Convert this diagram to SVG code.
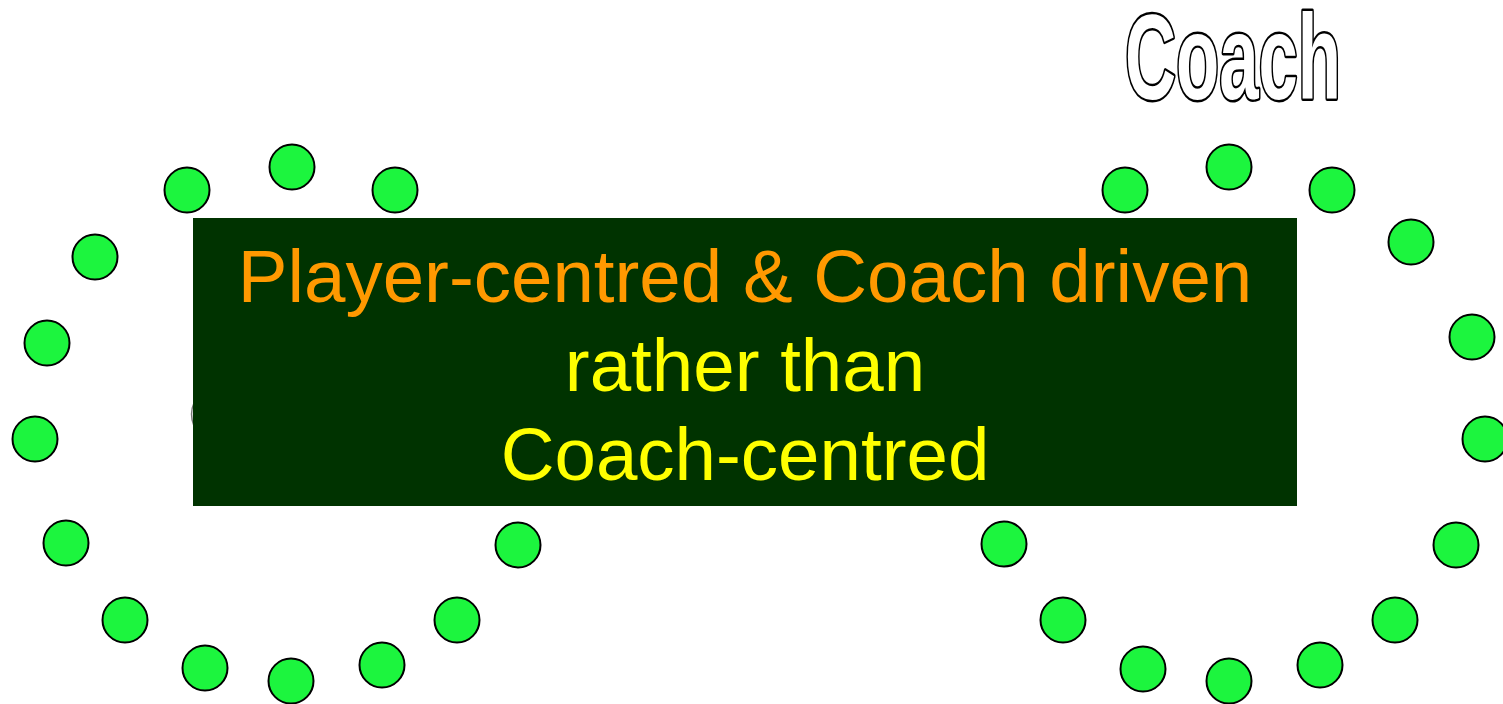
<svg xmlns="http://www.w3.org/2000/svg" width="1503" height="704" viewBox="0 0 1503 704">
<style>
.p{fill:#1cf53e;stroke:#000;stroke-width:2}
.t{font-family:"Liberation Sans",Arial,sans-serif;font-size:74.5px;text-anchor:middle}
</style>
<rect width="1503" height="704" fill="#fff"/>
<g id="coach-label">
<text transform="translate(1125,99) scale(1,1.66)" x="0" y="0" font-family="'Liberation Sans',Arial,sans-serif" font-weight="bold" font-size="73" textLength="216" lengthAdjust="spacingAndGlyphs" fill="#fff" stroke="#000" stroke-width="3" paint-order="stroke" stroke-linejoin="round">Coach</text>
</g>
<g id="left-ring">
<circle class="p" cx="187" cy="190" r="22.5"/>
<circle class="p" cx="292" cy="167" r="22.5"/>
<circle class="p" cx="395" cy="190" r="22.5"/>
<circle class="p" cx="95" cy="257" r="22.5"/>
<circle class="p" cx="47" cy="343" r="22.5"/>
<circle class="p" cx="35" cy="439" r="22.5"/>
<circle class="p" cx="66" cy="543" r="22.5"/>
<circle class="p" cx="125" cy="620" r="22.5"/>
<circle class="p" cx="205" cy="668" r="22.5"/>
<circle class="p" cx="291" cy="681" r="22.5"/>
<circle class="p" cx="382" cy="665" r="22.5"/>
<circle class="p" cx="457" cy="620" r="22.5"/>
<circle class="p" cx="518" cy="545" r="22.5"/>
</g>
<g id="right-ring">
<circle class="p" cx="1125" cy="190" r="22.5"/>
<circle class="p" cx="1229" cy="167" r="22.5"/>
<circle class="p" cx="1332" cy="190" r="22.5"/>
<circle class="p" cx="1411" cy="242" r="22.5"/>
<circle class="p" cx="1472" cy="337" r="22.5"/>
<circle class="p" cx="1485" cy="439" r="22.5"/>
<circle class="p" cx="1456" cy="545" r="22.5"/>
<circle class="p" cx="1395" cy="620" r="22.5"/>
<circle class="p" cx="1320" cy="665" r="22.5"/>
<circle class="p" cx="1229" cy="681" r="22.5"/>
<circle class="p" cx="1143" cy="669" r="22.5"/>
<circle class="p" cx="1063" cy="620" r="22.5"/>
<circle class="p" cx="1004" cy="544" r="22.5"/>
</g>
<path d="M194,403 Q189,414 194,426" fill="none" stroke="#777" stroke-width="1.5"/>
<g id="banner">
<rect x="193" y="218" width="1104" height="288" fill="#003300"/>
<text class="t" x="745" y="302" fill="#ff9900">Player-centred &amp; Coach driven</text>
<text class="t" x="745" y="391" fill="#ffff00">rather than</text>
<text class="t" x="745" y="480" fill="#ffff00">Coach-centred</text>
</g>
</svg>
